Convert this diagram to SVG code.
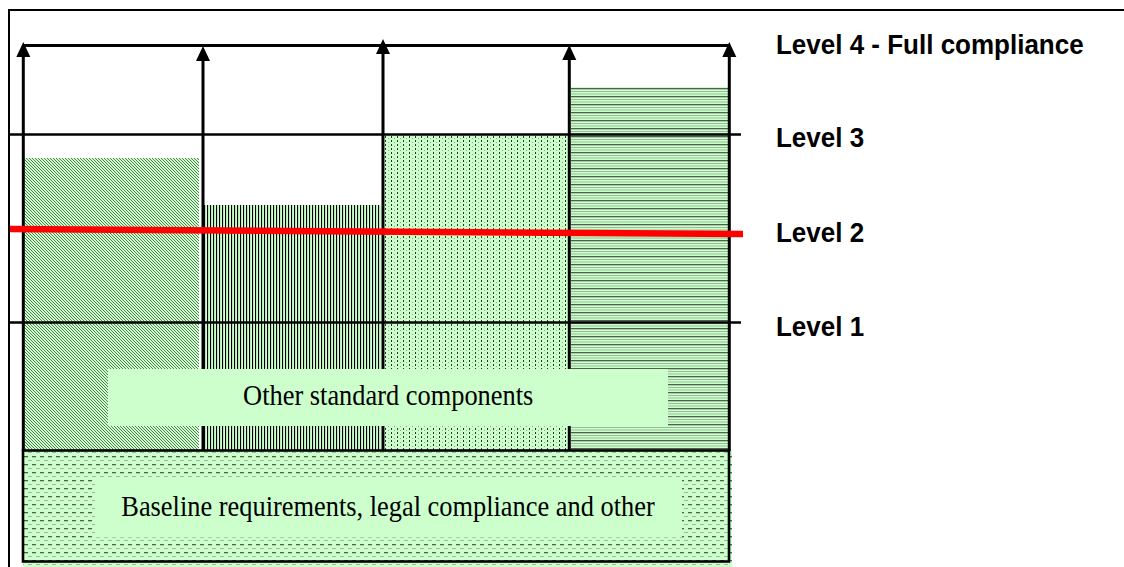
<svg xmlns="http://www.w3.org/2000/svg" width="1124" height="567" viewBox="0 0 1124 567">
<style>
.lbl{font-family:"Liberation Sans",Arial,sans-serif;font-weight:bold;font-size:26px;fill:#000}
.box{font-family:"Liberation Serif","Times New Roman",serif;font-size:26.4px;fill:#000;text-anchor:middle}
.lvl{stroke:#000;stroke-width:2.4;fill:none}
.ax{stroke:#000;stroke-width:3;fill:none}
.pale{fill:#CCFFCC}
</style>
<defs>
<pattern id="pDiag" width="3" height="3" patternUnits="userSpaceOnUse">
<rect width="3" height="3" fill="#CCFFCC"/>
<path d="M-1,-1 L4,4 M-1,2 L1,4 M2,-1 L4,1" stroke="#4a6e4a" stroke-width="0.9"/>
</pattern>
<pattern id="pVert" width="3" height="4" patternUnits="userSpaceOnUse">
<rect width="3" height="4" fill="#CCFFCC"/>
<rect x="0" y="0" width="1.1" height="4" fill="#000"/>
</pattern>
<pattern id="pDots" width="6" height="4" patternUnits="userSpaceOnUse">
<rect width="6" height="4" fill="#CCFFCC"/>
<rect x="1" y="0" width="1" height="2" fill="#2a3a2a"/>
<rect x="4" y="2" width="1" height="1" fill="#88aa88"/>
</pattern>
<pattern id="pHor" width="8" height="8" patternUnits="userSpaceOnUse">
<rect width="8" height="8" fill="#CCFFCC"/>
<rect x="0" y="0" width="8" height="1.3" fill="#4f604f"/>
<rect x="0" y="3" width="8" height="1" fill="#99bb99"/>
<rect x="0" y="5.5" width="8" height="1" fill="#99bb99"/>
</pattern>
<pattern id="pDash" width="8" height="8" patternUnits="userSpaceOnUse">
<rect width="8" height="8" fill="#CCFFCC"/>
<rect x="0" y="0" width="4" height="1.3" fill="#4f604f"/>
<rect x="4" y="4" width="4" height="1" fill="#99bb99"/>
</pattern>
<marker id="ah" markerUnits="userSpaceOnUse" markerWidth="16" markerHeight="16" viewBox="0 -8 16 16" refX="4" refY="0" orient="auto">
<path d="M0,-7 L15,0 L0,7 z" fill="#000"/>
</marker>
</defs>

<rect id="frame" x="9" y="10" width="1200" height="700" fill="none" stroke="#000" stroke-width="2"/>

<g id="bars">
<rect id="bar1" x="24" y="158" width="175" height="292" fill="url(#pDiag)"/>
<rect id="bar2" x="204" y="205" width="177" height="245" fill="url(#pVert)"/>
<rect id="bar3" x="385" y="135" width="183" height="315" fill="url(#pDots)"/>
<rect id="bar4" x="571" y="87" width="158" height="363" fill="url(#pHor)"/>
</g>

<g id="baseline">
<rect x="23" y="450" width="709" height="117" fill="url(#pDash)"/>
<rect x="23" y="450.5" width="706" height="111" fill="none" stroke="#000" stroke-width="2.6"/>
</g>

<g id="levels">
<line class="lvl" x1="9" y1="134.5" x2="741" y2="134.5"/>
<line class="lvl" x1="9" y1="322.5" x2="741" y2="322.5"/>
</g>

<g id="connectors">
<line class="ax" x1="23" y1="45.5" x2="729" y2="45.5" stroke-width="2.6"/>
<line class="ax" x1="23.3" y1="451" x2="23.3" y2="53" marker-end="url(#ah)"/>
<line class="ax" x1="203" y1="451" x2="203" y2="57" marker-end="url(#ah)"/>
<line class="ax" x1="383" y1="451" x2="383" y2="50" marker-end="url(#ah)"/>
<line class="ax" x1="569.3" y1="451" x2="569.3" y2="56" marker-end="url(#ah)"/>
<line class="ax" x1="729.3" y1="451" x2="729.3" y2="53" marker-end="url(#ah)"/>
</g>

<line id="level2-line" x1="10" y1="229" x2="743" y2="234" stroke="#FF0000" stroke-width="6.5"/>

<g id="other-box">
<rect class="pale" x="108" y="369" width="560" height="57"/>
<text class="box" transform="translate(388.2,405) scale(1,1.13)">Other standard components</text>
</g>

<g id="baseline-box">
<rect class="pale" x="95" y="478" width="587" height="59"/>
<text class="box" transform="translate(388,516) scale(1,1.13)">Baseline requirements, legal compliance and other</text>
</g>

<g id="labels">
<text class="lbl" transform="translate(776,53.5) scale(1,1.08)">Level 4 - Full compliance</text>
<text class="lbl" transform="translate(776,146.7) scale(1,1.08)">Level 3</text>
<text class="lbl" transform="translate(776,241.7) scale(1,1.08)">Level 2</text>
<text class="lbl" transform="translate(776,335.7) scale(1,1.08)">Level 1</text>
</g>
</svg>
